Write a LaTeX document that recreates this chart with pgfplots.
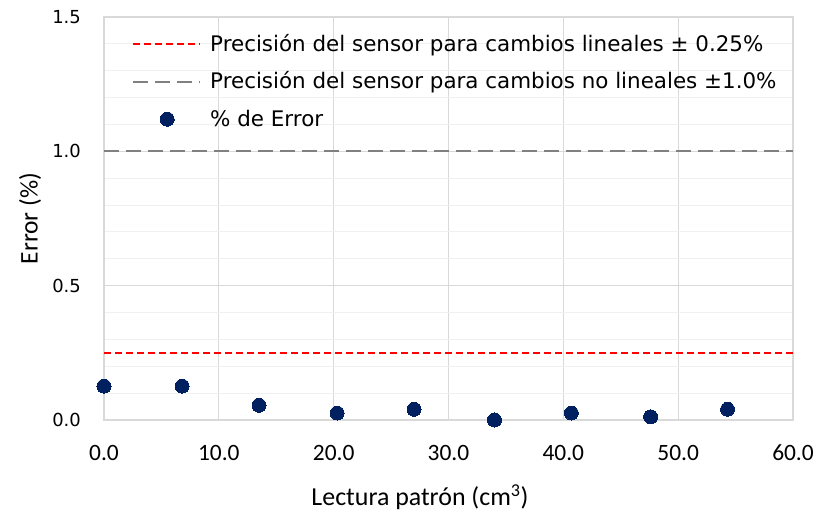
\documentclass[border=0pt]{standalone}
\usepackage{fontspec}
\usepackage{pgfplots}
\pgfplotsset{compat=1.18}
\setmainfont{Carlito}
\newfontfamily\verd{DejaVu Sans}
\definecolor{navy}{HTML}{002060}
\definecolor{gridmaj}{HTML}{D9D9D9}
\definecolor{gridmin}{HTML}{F0F0F0}
\definecolor{grayline}{HTML}{808080}
\pgfplotsset{
  lineleg/.style={legend image code/.code={\draw[##1] (0bp,0bp) -- (67bp,0bp);}},
  dotleg/.style={legend image code/.code={\draw[mark repeat=2,mark phase=2,##1] plot coordinates {(0bp,0bp) (34bp,0bp) (67bp,0bp)};}},
}
\begin{document}
\begin{tikzpicture}
\useasboundingbox (0,0) rectangle (820bp,519bp);
\begin{axis}[
  at={(104bp,99bp)}, anchor=south west,
  width=689bp, height=403bp, scale only axis,
  xmin=0, xmax=60, ymin=0, ymax=1.5,
  xtick={0,10,...,60}, ytick={0,0.5,1,1.5},
  minor ytick={0.1,0.2,0.3,0.4,0.6,0.7,0.8,0.9,1.1,1.2,1.3,1.4},
  major tick length=0pt, minor tick length=0pt,
  xmajorgrids, ymajorgrids, yminorgrids,
  major grid style={gridmaj, line width=1bp},
  minor grid style={gridmin, line width=1bp},
  axis line style={gridmaj, line width=2bp},
  /pgf/number format/.cd, fixed, fixed zerofill, precision=1, assume math mode=true,
  /pgfplots/.cd,
  xticklabel style={font=\fontsize{23.5}{28}\selectfont, anchor=base, yshift=-40bp, inner sep=0pt},
  yticklabel style={font=\verd\fontsize{18}{22}\selectfont, anchor=east, xshift=-23bp, inner sep=0pt},
  xlabel={Lectura patrón (cm\textsuperscript{3})},
  xlabel style={font=\fontsize{26}{30}\selectfont, at={(axis description cs:0,0)}, anchor=center, xshift=316bp, yshift=-77bp},
  clip mode=individual,
  legend cell align=left,
  legend style={draw=none, fill=none, at={(rel axis cs:0,1)}, anchor=north west,
    xshift=28bp, yshift=-18bp, inner sep=0pt, row sep=19.5bp, column sep=9bp,
    font=\verd\fontsize{21.5}{26}\selectfont,
    nodes={inner sep=0pt, text height=16bp, text depth=2bp}},
]
\addplot[red, line width=2bp, dash pattern=on 6.5bp off 4.5bp, lineleg]
  coordinates {(0,0.25) (60,0.25)};
\addlegendentry{Precisión del sensor para cambios lineales ± 0.25\%}
\addplot[grayline, line width=2bp, dash pattern=on 15bp off 7bp, lineleg]
  coordinates {(0,1.0) (60,1.0)};
\addlegendentry{Precisión del sensor para cambios no lineales ±1.0\%}
\addplot[only marks, mark=*, mark size=7bp, mark options={fill=navy, draw=navy, line width=0pt}, dotleg]
  coordinates {(0,0.126) (6.8,0.126) (13.5,0.055) (20.3,0.026) (27.0,0.040) (34.0,0.0) (40.7,0.026) (47.6,0.012) (54.3,0.040)};
\addlegendentry{\% de Error}
\end{axis}
\node[rotate=90, font=\fontsize{25.5}{30}\selectfont] at (30bp,300.5bp) {Error (\%)};
\end{tikzpicture}
\end{document}
